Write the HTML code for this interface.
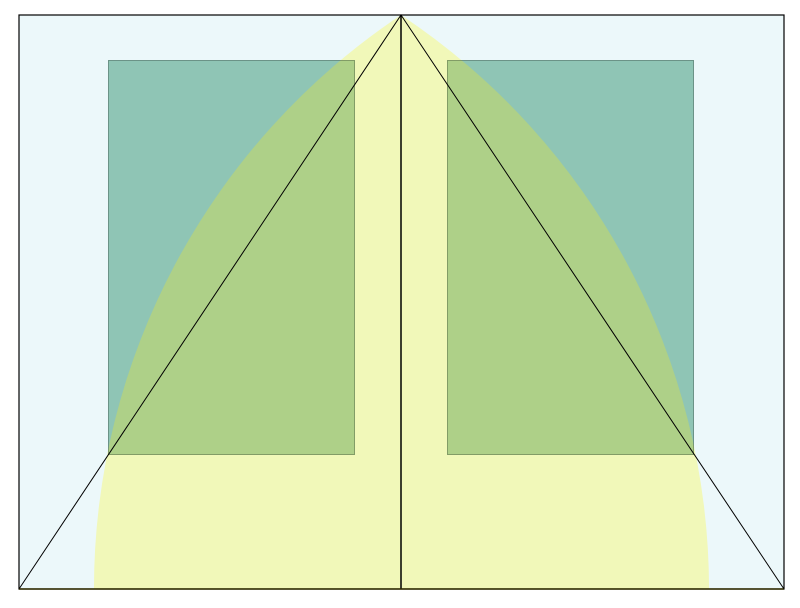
<!DOCTYPE html>
<html><head><meta charset="utf-8"><style>html,body{margin:0;padding:0;background:#fff}svg{display:block}</style></head>
<body>
<svg id="chart" width="800" height="608" xmlns="http://www.w3.org/2000/svg"></svg>
<script>
const frame = [19, 15, 784, 589];
const rects = [[108, 60, 355, 455], [447, 60, 694, 455]];
const apex = [401, 15];
const NS = 'http://www.w3.org/2000/svg';
const svg = document.getElementById('chart');
function mk(tag, attrs, parent) {
  const e = document.createElementNS(NS, tag);
  for (const k in attrs) e.setAttribute(k, attrs[k]);
  (parent || svg).appendChild(e);
  return e;
}
const [x0, y0, x1, y1] = frame;
const r = Math.hypot(x1 - apex[0], y1 - apex[1]);
const bg = mk('rect', {x: x0, y: y0, width: x1 - x0, height: y1 - y0, fill: '#ecf8fa'});


const archD = `M${x1 - r},${y1} A${r},${r} 0 0 1 ${apex[0]},${apex[1]} A${r},${r} 0 0 1 ${x0 + r},${y1} Z`;
const defs = mk('defs', {});
const cp = mk('clipPath', {id: 'archclip'}, defs);
mk('path', {d: archD}, cp);
const arch = mk('path', {d: archD, fill: '#f1f8b9'});


rects.forEach((q, i) => {
  const rc = mk('rect', {x: q[0], y: q[1], width: q[2] - q[0], height: q[3] - q[1], fill: '#8fc5b5'});
  
  
  const ov = mk('rect', {x: q[0], y: q[1], width: q[2] - q[0], height: q[3] - q[1], fill: '#aed088', 'clip-path': 'url(#archclip)'});
  
  
  const bd = mk('rect', {x: q[0] + 0.5, y: q[1] + 0.5, width: q[2] - q[0] - 1, height: q[3] - q[1] - 1, fill: 'none', stroke: '#000', 'stroke-opacity': 0.25});
  
  
});
const tri = mk('path', {d: `M${x0},${y1} L${apex[0]},${apex[1]} L${x1},${y1}`, fill: 'none', stroke: '#000', 'stroke-width': 1});


const vl = mk('line', {x1: apex[0], y1: apex[1], x2: apex[0], y2: y1, stroke: '#000', 'stroke-width': 1.5});


const bl = mk('line', {x1: x0, y1: y1, x2: x1, y2: y1, stroke: '#b5a800', 'stroke-width': 1.5});


const fr = mk('rect', {x: x0, y: y0, width: x1 - x0, height: y1 - y0, fill: 'none', stroke: '#000', 'stroke-width': 1.2});


</script>
</body></html>
